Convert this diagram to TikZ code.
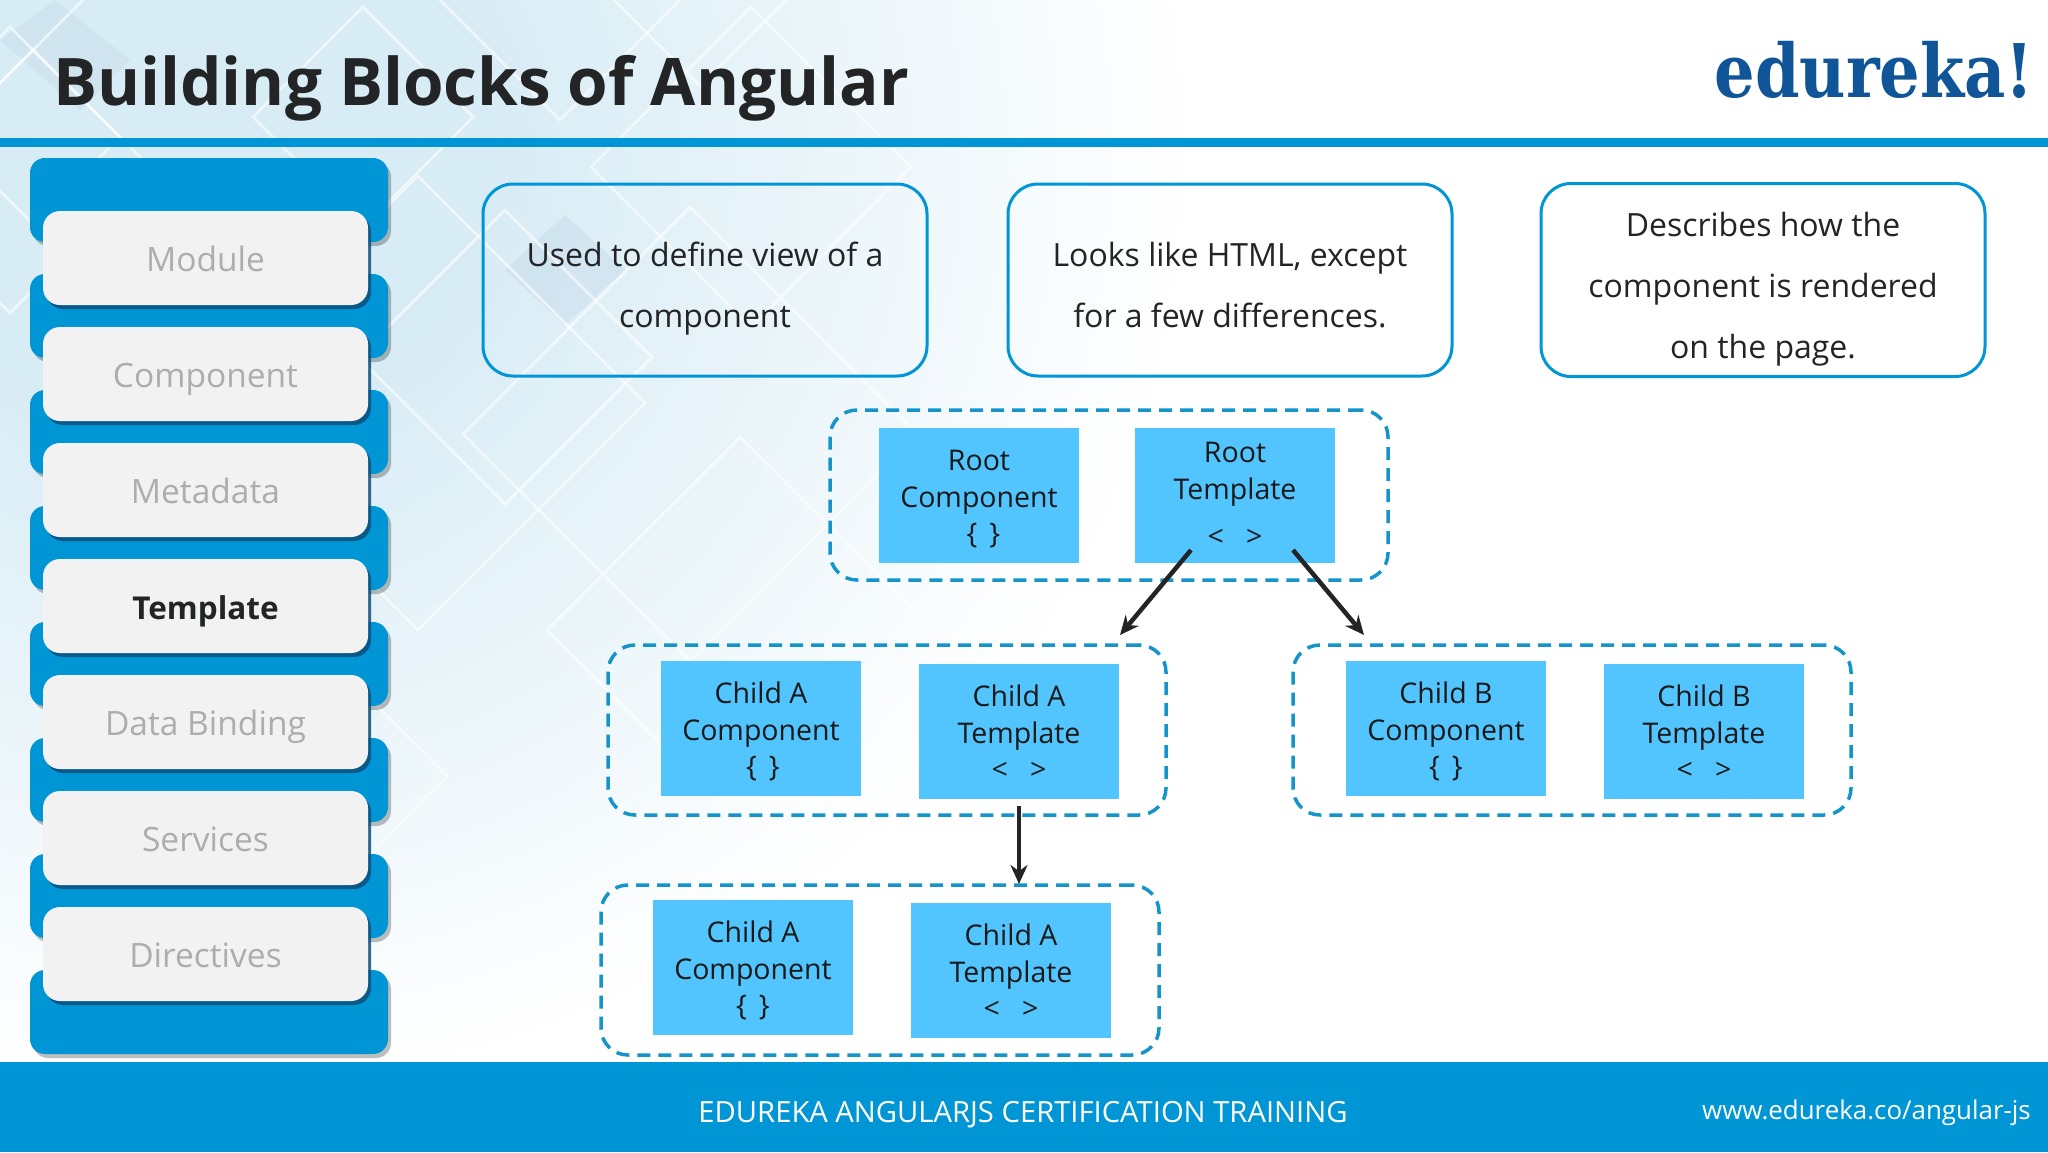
\documentclass[tikz,border=0pt]{standalone}
\usepackage{fontspec}
\usepackage{graphicx}
\setmainfont{Open Sans}
\newfontfamily\logofont{DejaVu Serif}
\usetikzlibrary{shadows,arrows.meta}
\definecolor{edublue}{HTML}{0096D6}
\definecolor{cardblue}{HTML}{52C5FF}
\definecolor{dashblue}{HTML}{1494C8}
\definecolor{logoblue}{HTML}{0F5597}
\definecolor{inkdark}{HTML}{222426}
\definecolor{greytext}{HTML}{ADADAD}
\definecolor{glowblue}{HTML}{D8ECF5}
\definecolor{patchblue}{HTML}{BCD3E4}
\definecolor{cardshadow}{HTML}{0E4F7C}
\newcommand{\notetop}{\rule{0pt}{52.7pt}}
\newcommand{\cardtop}{\rule{0pt}{35.5pt}}
\tikzset{
  x=1pt,y=-1pt,
  tabbar/.style={fill=edublue,draw=none,rounded corners=15pt,minimum width=358pt,minimum height=84pt,inner sep=0pt,drop shadow={shadow xshift=3pt,shadow yshift=-4pt,opacity=.25,fill=black}},
  menuitem/.style={fill=white!95!black,draw=none,rounded corners=17pt,minimum width=325pt,minimum height=94pt,inner sep=0pt,text=greytext,text height=30pt,text depth=4pt,font=\fontsize{33.5}{38}\selectfont,drop shadow={shadow xshift=3pt,shadow yshift=-4pt,opacity=.85,fill=cardshadow}},
  noteframe/.style={draw=edublue,line width=3pt,rounded corners=30pt,minimum width=444pt,minimum height=192pt,inner sep=0pt,align=center,text=inkdark,font=\fontsize{32}{61}\selectfont},
  groupframe/.style={draw=dashblue,line width=3.5pt,dash pattern=on 13pt off 8pt,rounded corners=27pt,minimum width=558pt,minimum height=170pt,inner sep=0pt},
  card/.style={fill=cardblue,draw=none,minimum width=200pt,minimum height=135pt,inner sep=0pt,align=center,text=black!90,font=\fontsize{28.5}{36.5}\selectfont},
  flow/.style={draw=inkdark,line width=4.5pt,-{Stealth[length=19pt,width=17pt]}},
  bgline/.style={draw=white,line width=2.5pt,opacity=.6},
}
\begin{document}
\begin{tikzpicture}
\useasboundingbox (0,0) rectangle (2048,1152);
\fill[white] (0,0) rectangle (2048,1152);
\begin{scope}
\clip (0,0) rectangle (2048,1152);
\foreach \i in {0,...,39}{
  \pgfmathsetmacro\ringf{1-\i/39*0.7}
  \pgfmathsetmacro\ringp{\i/39*100}
  \fill[glowblue!\ringp!white] (200,150) ellipse ({1000*\ringf} and {950*\ringf});
}
\fill[patchblue,opacity=.35] (565,215) -- (625,270) -- (565,325) -- (505,270) -- cycle;
\fill[patchblue,opacity=.3] (55,0) -- (130,60) -- (80,110) -- (0,40) -- cycle;
\foreach \cx/\cy/\r in {418/403/227, 740/630/193, 690/434/227, 505/357/147, 250/776/197, 10/170/143, 363/117/110, 33/137/87, 0/0/83, 751/167/160, 700/-114/200, 560/-120/240}{
  \draw[bgline] (\cx-\r,\cy) -- (\cx,\cy-\r) -- (\cx+\r,\cy) -- (\cx,\cy+\r) -- cycle;
}
\end{scope}
\fill[edublue] (0,138) rectangle (2048,147);
\fill[edublue] (0,1062) rectangle (2048,1152);
\node[anchor=base west,inner sep=0pt,text=inkdark,font=\bfseries\fontsize{65.6}{70}\selectfont] (title) at (53,105) {Building Blocks of Angular};
\node[anchor=base east,inner sep=0pt,text=logoblue,font=\logofont\bfseries\fontsize{74}{78}\selectfont] (logo) at (2034,97) {\scalebox{.862}[1]{edureka!}};
% sidebar
\foreach \i/\y in {b1/200,b2/316,b3/432,b4/548,b5/664,b6/780,b7/896,b8/1012}{
  \node[tabbar] (\i) at (209,\y) {};
}
\node[menuitem] (m1) at (205.5,258) {Module};
\node[menuitem] (m2) at (205.5,374) {Component};
\node[menuitem] (m3) at (205.5,490) {Metadata};
\node[menuitem,text=inkdark,font=\bfseries\fontsize{31.5}{38}\selectfont] (m4) at (205.5,606) {Template};
\node[menuitem] (m5) at (205.5,722) {Data Binding};
\node[menuitem] (m6) at (205.5,838) {Services};
\node[menuitem] (m7) at (205.5,954) {Directives};
% notes
\node[noteframe] (n1) at (705,280) {\notetop\strut Used to define view of a\\\strut component};
\node[noteframe] (n2) at (1230,280) {\notetop\strut Looks like HTML, except\\\strut for a few differences.};
\node[noteframe] (n3) at (1763,280) {\notetop\strut Describes how the\\\strut component is rendered\\\strut on the page.};
% groups
\node[groupframe] (gr) at (1109,495) {};
\node[groupframe] (ga) at (887,730) {};
\node[groupframe] (gb) at (1572,730) {};
\node[groupframe] (gc) at (880,970) {};
% cards
\node[card] (rc) at (979,495) {\cardtop\strut Root\\\strut Component\\\strut\hspace*{9pt}\{\hspace{.42em}\}};
\node[card] (rt) at (1235,495) {\rule{0pt}{30.5pt}\strut Root\\\strut Template\\[11pt]\strut <~~~>};
\node[card] (ac) at (761,728) {\cardtop\strut Child A\\\strut Component\\\strut\hspace*{4pt}\{\hspace{.42em}\}};
\node[card] (at) at (1019,731) {\cardtop\strut Child A\\\strut Template\\\strut <~~~>};
\node[card] (bc) at (1446,728) {\cardtop\strut Child B\\\strut Component\\\strut\{\hspace{.42em}\}};
\node[card] (bt) at (1704,731) {\cardtop\strut Child B\\\strut Template\\\strut <~~~>};
\node[card] (cc) at (753,967) {\cardtop\strut Child A\\\strut Component\\\strut\{\hspace{.42em}\}};
\node[card] (ct) at (1011,970) {\cardtop\strut Child A\\\strut Template\\\strut <~~~>};
% connectors
\coordinate (rtl) at (1191,550);
\coordinate (rtr) at (1293,550);
\coordinate (atd) at (1019,806);
\coordinate (gaT) at (1120,635);
\coordinate (gbT) at (1364,635);
\coordinate (gcT) at (1019,884);
\draw[flow] (rtl) -- (gaT);
\draw[flow] (rtr) -- (gbT);
\draw[flow] (atd) -- (gcT);
% footer
\node[inner sep=0pt,text=white,font=\fontsize{29.2}{34}\selectfont] (foot) at (1023,1115) {EDUREKA ANGULARJS CERTIFICATION TRAINING};
\node[anchor=east,inner sep=0pt,text=white,font=\fontsize{25.9}{32}\selectfont] (url) at (2031,1113) {www.edureka.co/angular-js};
\end{tikzpicture}
\end{document}
